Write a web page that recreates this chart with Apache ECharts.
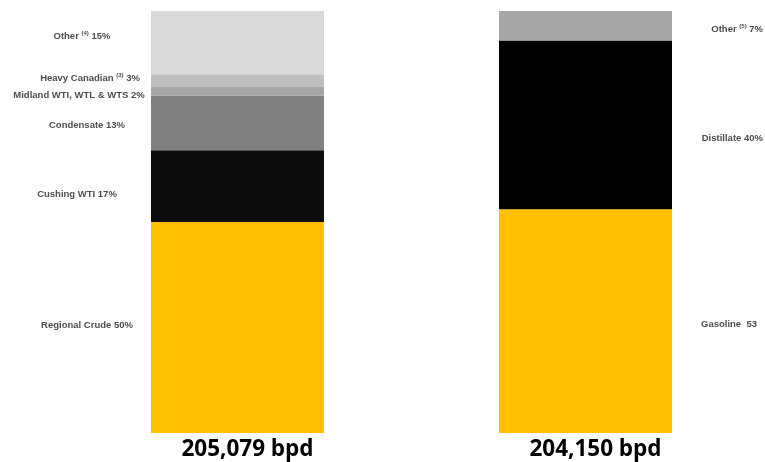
<!DOCTYPE html>
<html>
<head>
<meta charset="utf-8">
<script src="https://cdn.jsdelivr.net/npm/echarts@6/dist/echarts.min.js"></script>
<style>
  html, body { margin: 0; padding: 0; background: #ffffff; }
  #chart { width: 765px; height: 462px; }
</style>
</head>
<body>
<div id="chart"></div>
<script>
// Throughput totals shown under each bar
const categories = ['205,079 bpd', '204,150 bpd'];

// Crude slate (left bar), bottom to top, percent of throughput
const crudeNames  = ['Regional Crude', 'Cushing WTI', 'Condensate', 'Midland WTI, WTL & WTS', 'Heavy Canadian', 'Other'];
const crudeShares = [50, 17, 13, 2, 3, 15];
const crudeNotes  = ['', '', '', '', '3', '4'];

// Product yield (right bar), bottom to top, percent of yield
const productNames  = ['Gasoline', 'Distillate', 'Other'];
const productShares = [53, 40, 7];
const productNotes  = ['', '', '5'];
const productUnits  = ['', '%', '%'];

// Styling
const crudeColors   = ['#ffc000', '#0d0d0d', '#808080', '#a6a6a6', '#bfbfbf', '#d9d9d9'];
const productColors = ['#ffc000', '#000000', '#a6a6a6'];
// label placement: [distance from bar edge, vertical offset]
const crudeLabelPos   = [[64, -2], [74, 8.5], [64, 3], [72, 4.6], [61, -1.8], [69, -6.7]];
const productLabelPos = [[85, 3], [91, 13], [91, 4]];

const FONT = "'Liberation Sans', Arial, sans-serif";
const labelRich = {
  t: { fontFamily: FONT, fontSize: 9.5, fontWeight: 'bold', color: '#4d4d4d', lineHeight: 12 },
  s: { fontFamily: FONT, fontSize: 6, fontWeight: 'bold', color: '#4d4d4d', lineHeight: 6, verticalAlign: 'top' }
};

function labelText(name, note, value, unit) {
  if (note) return '{t|' + name + ' }{s|(' + note + ')}{t| ' + value + unit + '}';
  return '{t|' + name + ' ' + (unit === '' ? ' ' : '') + value + unit + '}';
}

const series = [];
crudeNames.forEach(function (name, i) {
  series.push({
    name: name,
    type: 'bar',
    stack: 'mix',
    barWidth: 173,
    silent: true,
    data: [{
      value: crudeShares[i],
      itemStyle: { color: crudeColors[i] },
      label: {
        show: true,
        position: 'left',
        distance: crudeLabelPos[i][0],
        offset: [0, crudeLabelPos[i][1]],
        align: 'center',
        formatter: labelText(name, crudeNotes[i], crudeShares[i], '%'),
        rich: labelRich
      }
    }, '-']
  });
});
productNames.forEach(function (name, i) {
  series.push({
    name: 'product-' + name,
    type: 'bar',
    stack: 'mix',
    barWidth: 173,
    silent: true,
    data: ['-', {
      value: productShares[i],
      itemStyle: { color: productColors[i] },
      label: {
        show: true,
        position: 'right',
        distance: productLabelPos[i][0],
        offset: [0, productLabelPos[i][1]],
        align: 'right',
        formatter: labelText(name, productNotes[i], productShares[i], productUnits[i]),
        rich: labelRich
      }
    }]
  });
});

const chart = echarts.init(document.getElementById('chart'), null, { renderer: 'canvas' });
chart.setOption({
  animation: false,
  backgroundColor: '#ffffff',
  grid: { left: 63.5, right: 5.5, top: 11, bottom: 28, containLabel: false },
  xAxis: {
    type: 'category',
    data: categories,
    axisLine: { show: false },
    axisTick: { show: false },
    axisLabel: {
      margin: 5,
      padding: [0, 0, 0, 20],
      fontFamily: "'Open Sans', 'Liberation Sans', sans-serif",
      fontSize: 22.5,
      fontWeight: 'bold',
      lineHeight: 24,
      color: '#000000'
    }
  },
  yAxis: {
    type: 'value',
    min: 0,
    max: 100,
    show: false,
    splitLine: { show: false }
  },
  series: series
});
</script>
</body>
</html>
